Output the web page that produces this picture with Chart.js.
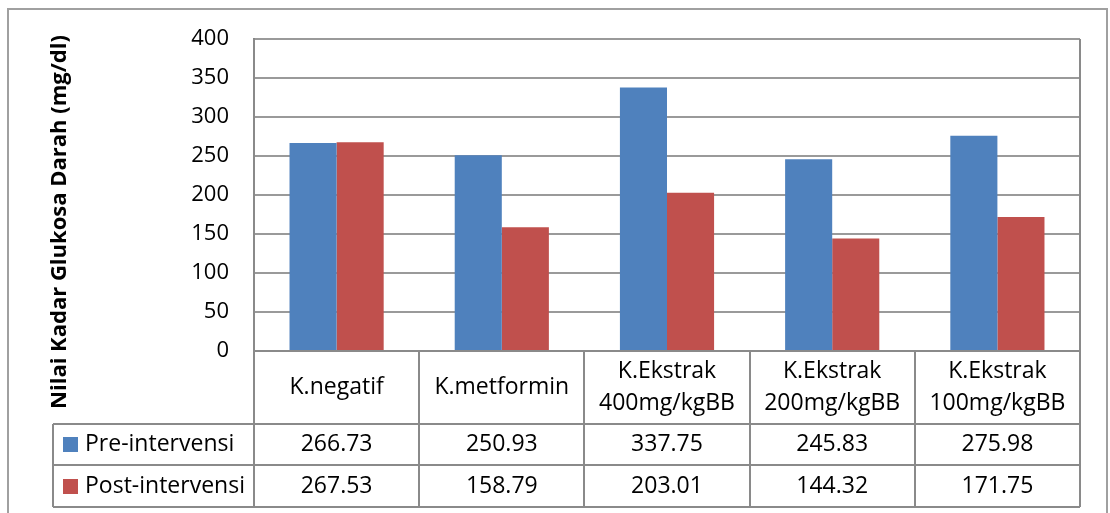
<!DOCTYPE html>
<html>
<head>
<meta charset="utf-8">
<title>Nilai Kadar Glukosa Darah</title>
<script src="https://cdn.jsdelivr.net/npm/chart.js@4/dist/chart.umd.min.js"></script>
<style>
  html, body { margin: 0; padding: 0; background: #ffffff; }
  #wrap { position: relative; width: 1110px; height: 513px; }
  canvas { display: block; }
</style>
</head>
<body>
<div id="wrap"><canvas id="chart" width="1110" height="513"></canvas></div>
<script>
// Group labels (multi-line where the label wraps in the table header)
const categories = [
  ['K.negatif'],
  ['K.metformin'],
  ['K.Ekstrak', '400mg/kgBB'],
  ['K.Ekstrak', '200mg/kgBB'],
  ['K.Ekstrak', '100mg/kgBB']
];
const seriesNames = ['Pre-intervensi', 'Post-intervensi'];
const preValues = [266.73, 250.93, 337.75, 245.83, 275.98];
const postValues = [267.53, 158.79, 203.01, 144.32, 171.75];
const yTickMin = 0;
const yTickMax = 400;
const yTickStep = 50;
const yAxisTitle = 'Nilai Kadar Glukosa Darah (mg/dl)';

const seriesColors = ['#4F81BD', '#C0504D'];
const FONT = "'Open Sans', 'Noto Sans', sans-serif";
const LINE = '#8a8a8a';

// Data table rows under the plot: header row, then one row per series
const tableRowHeights = [73, 41, 42];
const legendColLeft = 53;

const tablePlugin = {
  id: 'dataTable',
  afterDraw(chart) {
    const ctx = chart.ctx;
    const area = chart.chartArea;
    const xs = chart.scales.x;
    const n = categories.length;
    const colW = (area.right - area.left) / n;
    const rowTops = [area.bottom];
    tableRowHeights.forEach((h, i) => rowTops.push(rowTops[i] + h));
    const bottom = rowTops[rowTops.length - 1];

    ctx.save();
    ctx.strokeStyle = LINE;
    ctx.lineWidth = 2;
    ctx.beginPath();
    // horizontal rules
    ctx.moveTo(area.left, rowTops[0]); ctx.lineTo(area.right, rowTops[0]);
    for (let r = 1; r < rowTops.length; r++) {
      ctx.moveTo(legendColLeft, rowTops[r]); ctx.lineTo(area.right, rowTops[r]);
    }
    // vertical rules
    ctx.moveTo(legendColLeft, rowTops[1]); ctx.lineTo(legendColLeft, bottom);
    ctx.moveTo(area.left, area.top); ctx.lineTo(area.left, bottom);
    for (let i = 1; i < n; i++) {
      const x = Math.round(area.left + colW * i);
      ctx.moveTo(x, rowTops[0]); ctx.lineTo(x, bottom);
    }
    ctx.moveTo(area.right, area.top); ctx.lineTo(area.right, bottom);
    ctx.stroke();

    ctx.fillStyle = '#000';
    ctx.font = '23px ' + FONT;
    ctx.textAlign = 'center';
    ctx.textBaseline = 'middle';
    // header row: category names
    const headMid = rowTops[0] + tableRowHeights[0] / 2;
    categories.forEach((lines, i) => {
      const cx = xs.getPixelForTick(i);
      const lh = 32;
      const start = headMid - (lines.length - 1) * lh / 2;
      lines.forEach((t, k) => ctx.fillText(t, cx, start + k * lh));
    });
    // series rows: legend key + values
    const rows = [preValues, postValues];
    rows.forEach((vals, r) => {
      const mid = rowTops[r + 1] + tableRowHeights[r + 1] / 2;
      ctx.fillStyle = seriesColors[r];
      ctx.fillRect(63, Math.round(mid - 7.5), 15, 15);
      ctx.fillStyle = '#000';
      ctx.textAlign = 'left';
      ctx.fillText(seriesNames[r], 85, mid);
      ctx.textAlign = 'center';
      vals.forEach((v, i) => ctx.fillText(v.toFixed(2), xs.getPixelForTick(i), mid));
    });

    // rotated value-axis title
    ctx.save();
    ctx.translate(60, 222);
    ctx.rotate(-Math.PI / 2);
    ctx.font = 'bold 22px ' + FONT;
    ctx.fillText(yAxisTitle, 0, 0);
    ctx.restore();

    // outer chart frame
    ctx.strokeStyle = '#a0a0a0';
    ctx.lineWidth = 2;
    ctx.strokeRect(8, 9, 1099, 520);
    ctx.restore();
  }
};

const bgPlugin = {
  id: 'bg',
  beforeDraw(chart) {
    const ctx = chart.ctx;
    ctx.save();
    ctx.fillStyle = '#fff';
    ctx.fillRect(0, 0, chart.width, chart.height);
    ctx.restore();
  }
};

new Chart(document.getElementById('chart'), {
  type: 'bar',
  data: {
    labels: categories.map(c => c.join(' ')),
    datasets: [
      { label: seriesNames[0], data: preValues, backgroundColor: seriesColors[0], borderWidth: 0 },
      { label: seriesNames[1], data: postValues, backgroundColor: seriesColors[1], borderWidth: 0 }
    ]
  },
  options: {
    responsive: false,
    animation: false,
    devicePixelRatio: 1,
    layout: { padding: { left: 0, top: 39, right: 30, bottom: 162 } },
    datasets: { bar: { categoryPercentage: 0.57, barPercentage: 1.0 } },
    plugins: {
      legend: { display: false },
      tooltip: { enabled: false },
      title: { display: false }
    },
    scales: {
      x: {
        display: false,
        offset: true
      },
      y: {
        min: yTickMin,
        max: yTickMax,
        afterFit(scale) { scale.width = 254; },
        ticks: {
          stepSize: yTickStep,
          padding: 25,
          color: '#000',
          font: { family: FONT, size: 22 }
        },
        grid: { color: '#9a9a9a', lineWidth: 2, drawTicks: false },
        border: { color: '#858585', width: 2 }
      }
    }
  },
  plugins: [bgPlugin, tablePlugin]
});
</script>
</body>
</html>
